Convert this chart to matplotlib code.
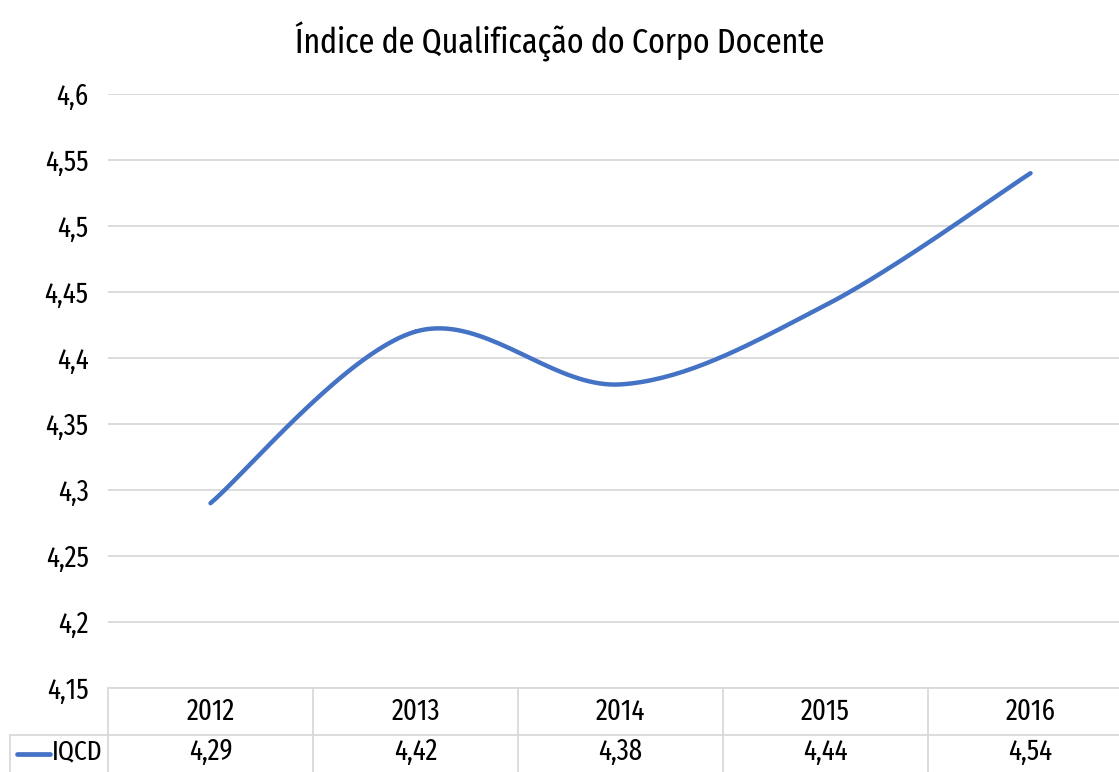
import numpy as np
import matplotlib
matplotlib.use('Agg')
import matplotlib.pyplot as plt
from matplotlib import font_manager as fm

# narrow humanist font, close to the (squeezed) Calibri of the original
installed = set(f.name for f in fm.fontManager.ttflist)
for fam in ['Fira Sans Extra Condensed', 'Open Sans Condensed', 'Encode Sans Condensed',
            'Fira Sans Condensed', 'Roboto Condensed', 'PT Sans Narrow', 'Open Sans']:
    if fam in installed:
        break
plt.rcParams['font.family'] = [fam, 'DejaVu Sans']

# data
years = ['2012', '2013', '2014', '2015', '2016']
iqcd = [4.29, 4.42, 4.38, 4.44, 4.54]
value_labels = ['4,29', '4,42', '4,38', '4,44', '4,54']
series_name = 'IQCD'
title = 'Índice de Qualificação do Corpo Docente'
yticks = [4.15, 4.2, 4.25, 4.3, 4.35, 4.4, 4.45, 4.5, 4.55, 4.6]

blue = '#4472C4'
grid_c = '#D9D9D9'


def smooth(xs, ys, n=40):
    # Catmull-Rom spline through the points (Excel-like smoothed line)
    px = np.concatenate([[xs[0]], xs, [xs[-1]]])
    py = np.concatenate([[ys[0]], ys, [ys[-1]]])
    outx, outy = [], []
    t = np.linspace(0, 1, n)
    for i in range(1, len(px) - 2):
        for p, out in ((px, outx), (py, outy)):
            p0, p1, p2, p3 = p[i - 1], p[i], p[i + 1], p[i + 2]
            out.extend(0.5 * (2 * p1 + (-p0 + p2) * t
                              + (2 * p0 - 5 * p1 + 4 * p2 - p3) * t ** 2
                              + (-p0 + 3 * p1 - 3 * p2 + p3) * t ** 3))
    return np.array(outx), np.array(outy)


W, H = 1119, 772
fig = plt.figure(figsize=(W / 100, H / 100), dpi=100)
left, right, top, bottom = 108, 1133, 94, 688
ax = fig.add_axes([left / W, 1 - bottom / H, (right - left) / W, (bottom - top) / H])

x = np.arange(len(years))
sx, sy = smooth(x.astype(float), np.array(iqcd))
ax.plot(sx, sy, color=blue, lw=3.2, solid_capstyle='round')

ax.set_xlim(-0.5, len(years) - 0.5)
ax.set_ylim(4.15, 4.6)
ax.set_yticks(yticks)
ax.set_yticklabels([('%g' % v).replace('.', ',') for v in yticks], fontsize=21)
ax.yaxis.grid(True, color=grid_c, lw=1.3)
ax.set_axisbelow(True)
ax.tick_params(axis='y', length=0, pad=14)
ax.set_xticks([])
for s in ax.spines.values():
    s.set_visible(False)

fig.text(0.5, 1 - 42 / H, title, ha='center', va='center', fontsize=25)

# data table below the plot
ax_h = bottom - top
row1 = -47 / ax_h
row2 = -(47 + 37) / ax_h
tr = ax.get_xaxis_transform()
col_w = (right - left) / len(years)
legend_left = (10 - left) / col_w - 0.5
kw = dict(transform=tr, clip_on=False, color=grid_c, lw=1.3)
ax.plot([-0.5, len(years) - 0.5], [0, 0], **kw)
ax.plot([legend_left, len(years) - 0.5], [row1, row1], **kw)
for b in np.arange(len(years) + 1) - 0.5:
    ax.plot([b, b], [0, row2 - 0.05], **kw)
ax.plot([legend_left, legend_left], [row1, row2 - 0.05], **kw)

for i, (yr, lab) in enumerate(zip(years, value_labels)):
    ax.text(i, row1 / 2, yr, transform=tr, ha='center', va='center', fontsize=21)
    ax.text(i, (row1 + row2) / 2 + 0.003, lab, transform=tr, ha='center', va='center', fontsize=21)

# legend key inside the table
ymid = (row1 + row2) / 2
ax.plot([(17 - left) / col_w - 0.5, (50 - left) / col_w - 0.5], [ymid, ymid], transform=tr,
        clip_on=False, color=blue, lw=3.4, solid_capstyle='round')
ax.text((102 - left) / col_w - 0.5, ymid + 0.003, series_name, transform=tr,
        ha='right', va='center', fontsize=20)

fig.savefig('out.png', dpi=100)
